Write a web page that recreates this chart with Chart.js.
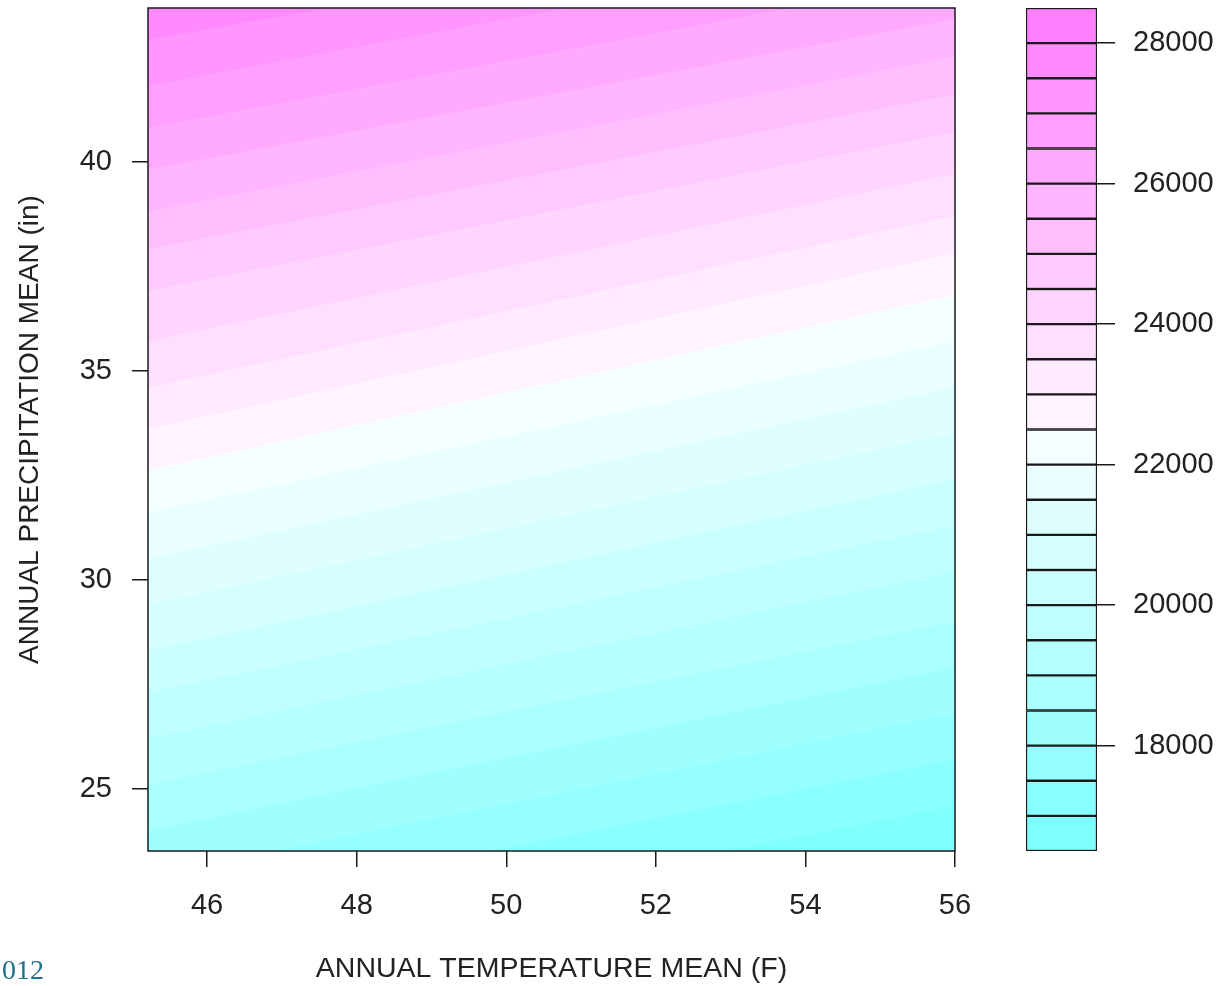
<!DOCTYPE html>
<html>
<head>
<meta charset="utf-8">
<script src="https://cdn.jsdelivr.net/npm/chart.js@4.4.1/dist/chart.umd.min.js"></script>
<style>
  html, body { margin: 0; padding: 0; background: #fff; }
  #wrap { position: relative; width: 1220px; height: 986px; overflow: hidden; }
  #main { position: absolute; left: 0; top: 0; }
  #key { position: absolute; left: 1010px; top: 0; }
  #tag { position: absolute; left: 2px; top: 954px; font: 28px "Liberation Serif", "DejaVu Serif", serif; color: #1f6f8b; }
</style>
</head>
<body>
<div id="wrap">
  <canvas id="main" width="1010" height="986"></canvas>
  <canvas id="key" width="210" height="986"></canvas>
  <div id="tag">012</div>
</div>
<script>
// Level boundaries of the fitted surface (value units)
const contourLevels = [17000, 17500, 18000, 18500, 19000, 19500, 20000, 20500, 21000, 21500, 22000, 22500,
                       23000, 23500, 24000, 24500, 25000, 25500, 26000, 26500, 27000, 27500, 28000];
// Temperatures (F) at which each level line was traced: left and right edge of the panel
const contourTemps = [45.21, 56.0];
// Precipitation (in) where each level line meets the left edge (45.21 F)
const precipAtLeft = [20.8, 21.9, 22.9, 24.0, 25.1, 26.2, 27.3, 28.3, 29.4, 30.5, 31.6, 32.6,
                      33.6, 34.6, 35.7, 36.9, 37.9, 38.8, 39.8, 40.8, 41.8, 42.9, 43.9];
// Precipitation (in) where each level line meets the right edge (56 F)
const precipAtRight = [24.6, 25.7, 26.8, 27.9, 29.0, 30.2, 31.3, 32.4, 33.5, 34.6, 35.7, 36.8,
                       37.8, 38.7, 39.7, 40.7, 41.6, 42.5, 43.4, 44.4, 45.4, 46.3, 47.3];

// Colour key breaks and labels
const keyBreaks = [16500, 17000, 17500, 18000, 18500, 19000, 19500, 20000, 20500, 21000, 21500, 22000, 22500,
                   23000, 23500, 24000, 24500, 25000, 25500, 26000, 26500, 27000, 27500, 28000, 28500];
const keyTicks = [18000, 20000, 22000, 24000, 26000, 28000];

// Axis ticks and limits
const tempTicks = [46, 48, 50, 52, 54, 56];
const precipTicks = [25, 30, 35, 40];
const tempLimits = [45.21, 56.0];
const precipLimits = [23.52, 43.68];

// cyan -> white -> magenta palette, one colour per key interval
function cmColors(n) {
  const k = n / 2, out = [];
  for (let i = 0; i < k; i++) {
    const c = Math.round(255 * (1 - 0.5 * (k - i) / k));
    out.push(`rgb(${c},255,255)`);
  }
  for (let i = 1; i <= k; i++) {
    const c = Math.round(255 * (1 - 0.5 * i / k));
    out.push(`rgb(255,${c},255)`);
  }
  return out;
}
const palette = cmColors(keyBreaks.length - 1);

Chart.defaults.font.family = '"Liberation Sans", Arial, sans-serif';
Chart.defaults.color = '#222';

const ink = '#1a1a1a';

// Fix an axis box to a set thickness and drop the label overhang padding
const fixBox = (prop, size) => s => {
  s[prop] = size;
  s.paddingTop = 0; s.paddingBottom = 0; s.paddingLeft = 0; s.paddingRight = 0;
};

// Each level line fills down to the previous one with the colour of the interval below it
const bandDatasets = contourLevels.map((level, k) => {
  const col = palette[keyBreaks.indexOf(level) - 1];
  return {
    label: String(level),
    data: [
      { x: contourTemps[0], y: precipAtLeft[k] },
      { x: contourTemps[1], y: precipAtRight[k] }
    ],
    borderColor: col,
    borderWidth: 1,
    backgroundColor: col,
    pointRadius: 0,
    fill: k === 0 ? 'start' : '-1',
    tension: 0
  };
});

const frame = {
  id: 'frame',
  afterDatasetsDraw(chart) {
    const { ctx, chartArea: a } = chart;
    ctx.save();
    ctx.strokeStyle = ink;
    ctx.lineWidth = 1.5;
    ctx.strokeRect(a.left, a.top, a.right - a.left, a.bottom - a.top);
    ctx.restore();
  }
};

new Chart(document.getElementById('main'), {
  type: 'line',
  data: { datasets: bandDatasets },
  plugins: [frame],
  options: {
    responsive: false,
    animation: false,
    layout: { padding: { top: 8, right: 55, bottom: 0, left: 0 } },
    plugins: { legend: { display: false }, tooltip: { enabled: false } },
    scales: {
      x: {
        type: 'linear',
        min: tempLimits[0],
        max: tempLimits[1],
        afterBuildTicks: s => { s.ticks = tempTicks.map(v => ({ value: v })); },
        afterFit: fixBox('height', 135),
        grid: { drawOnChartArea: false, drawTicks: true, tickLength: 16, color: ink, lineWidth: 1.5 },
        border: { display: false },
        ticks: { padding: 22, autoSkip: false, maxRotation: 0, font: { size: 29 }, callback: v => String(v) },
        title: { display: true, text: 'ANNUAL TEMPERATURE MEAN (F)', font: { size: 28.5 }, padding: { top: 0, bottom: 0 } }
      },
      y: {
        type: 'linear',
        min: precipLimits[0],
        max: precipLimits[1],
        afterBuildTicks: s => { s.ticks = precipTicks.map(v => ({ value: v })); },
        afterFit: fixBox('width', 148),
        grid: { drawOnChartArea: false, drawTicks: true, tickLength: 16, color: ink, lineWidth: 1.5 },
        border: { display: false },
        ticks: { padding: 20, autoSkip: false, font: { size: 29 }, callback: v => String(v) },
        title: { display: true, text: 'ANNUAL PRECIPITATION MEAN (in)', font: { size: 28 }, padding: { top: 13, bottom: 0 } }
      }
    }
  }
});

// Colour key: one floating bar per interval
new Chart(document.getElementById('key'), {
  type: 'bar',
  data: {
    labels: [''],
    datasets: keyBreaks.slice(0, -1).map((lo, i) => ({
      label: String(lo),
      data: [[lo, keyBreaks[i + 1]]],
      backgroundColor: palette[i],
      borderColor: ink,
      borderWidth: 1.5,
      borderSkipped: false,
      grouped: false,
      barPercentage: 1,
      categoryPercentage: 1
    }))
  },
  options: {
    responsive: false,
    animation: false,
    layout: { padding: { top: 8, right: 0, bottom: 135, left: 16 } },
    plugins: { legend: { display: false }, tooltip: { enabled: false } },
    scales: {
      x: { display: false },
      y: {
        position: 'right',
        min: keyBreaks[0],
        max: keyBreaks[keyBreaks.length - 1],
        afterBuildTicks: s => { s.ticks = keyTicks.map(v => ({ value: v })); },
        afterFit: fixBox('width', 123),
        grid: { drawOnChartArea: false, drawTicks: true, tickLength: 18, color: ink, lineWidth: 1.5 },
        border: { display: false },
        ticks: { padding: 18, autoSkip: false, font: { size: 29 }, callback: v => String(v) }
      }
    }
  }
});
</script>
</body>
</html>
